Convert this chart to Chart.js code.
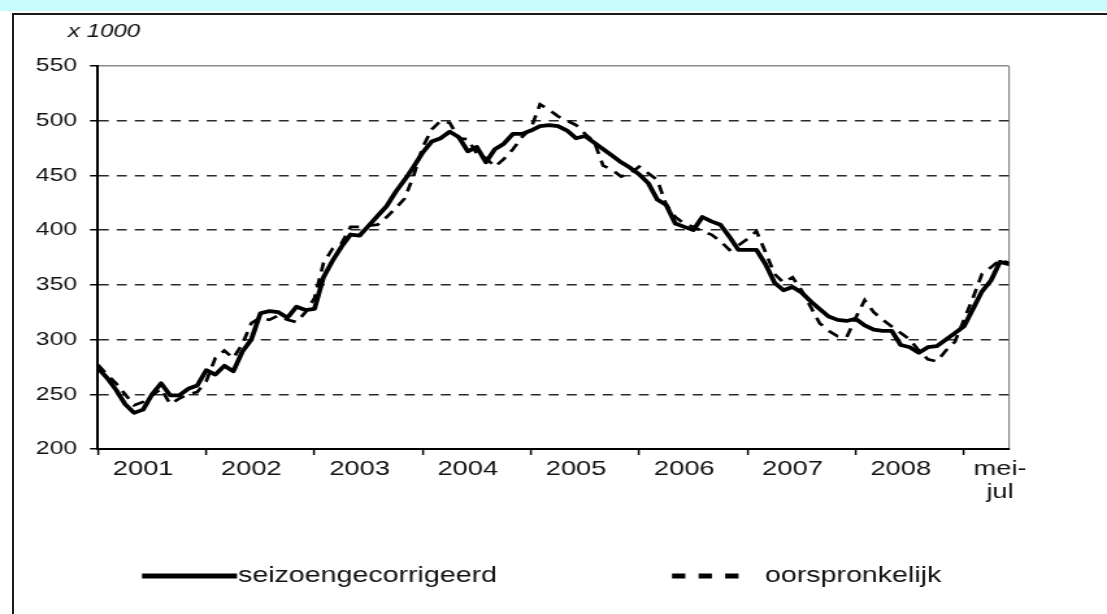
<!DOCTYPE html>
<html>
<head>
<meta charset="utf-8">
<script src="https://cdn.jsdelivr.net/npm/chart.js@4.4.1/dist/chart.umd.min.js"></script>
<style>
  html, body { margin: 0; padding: 0; width: 1107px; height: 614px; overflow: hidden; background: #fff; }
  #band { position: absolute; left: 0; top: 0; width: 1107px; height: 11px; background: #c9fdfd; }
  #frame { position: absolute; left: 12px; top: 13px; width: 1200px; height: 700px;
           border-left: 2px solid #1a1a1a; border-top: 2px solid #1a1a1a; background: #fff; }
  #c { position: absolute; left: 0; top: 0; }
</style>
</head>
<body>
<div id="band"></div>
<div id="frame"></div>
<canvas id="c" width="852" height="614" style="width:1107px;height:614px"></canvas>
<script>
// maandcijfers jan 2001 .. jun 2009 (x 1000)
const seizoengecorrigeerd = [
  274, 265, 254, 241, 233, 236, 250, 260, 249, 249, 255, 258,
  272, 268, 276, 271, 289, 300, 324, 326, 325, 320, 330, 327,
  328, 357, 372, 385, 396, 395, 404, 413, 422, 435, 446, 458,
  471, 481, 484, 490, 485, 472, 476, 462, 474, 479, 488, 488,
  491, 495, 496, 495, 491, 484, 486, 480, 474, 468, 462, 457,
  451, 443, 428, 423, 406, 403, 400, 412, 408, 405, 394, 382,
  382, 382, 369, 352, 345, 348, 343, 335, 328, 321, 318, 317,
  319, 313, 309, 308, 308, 295, 293, 288, 293, 294, 300, 306,
  312, 328, 344, 354, 371, 369
];
const oorspronkelijk = [
  277, 268, 260, 250, 240, 243, 249, 255, 241, 246, 250, 252,
  262, 283, 290, 283, 296, 315, 320, 318, 322, 318, 316, 325,
  338, 370, 383, 388, 403, 403, 404, 405, 412, 420, 429, 450,
  476, 492, 500, 498, 484, 483, 470, 466, 458, 465, 474, 485,
  493, 515, 510, 504, 500, 496, 488, 481, 459, 455, 449, 452,
  458, 452, 446, 423, 412, 406, 403, 399, 396, 390, 382, 386,
  392, 399, 380, 360, 352, 357, 345, 330, 315, 308, 303, 302,
  320, 336, 325, 318, 312, 306, 300, 290, 282, 280, 290, 298,
  318, 338, 360, 366, 373, 370
];
const yearLabels = ['2001', '2002', '2003', '2004', '2005', '2006', '2007', '2008', ['mei-', 'jul']];
const yearLabelAt = [5, 17, 29, 41, 53, 65, 77, 89, 100];   // maandindex van het label
const yearTickAt = [0, 12, 24, 36, 48, 60, 72, 84, 96];      // begin van elk jaar
const yTicks = [200, 250, 300, 350, 400, 450, 500, 550];
const legendNames = ['seizoengecorrigeerd', 'oorspronkelijk'];

// canvas is horizontally stretched to look like the original
const S = 1107 / 852;
const px = v => v / S;
const FONT = '"Liberation Sans", Arial, sans-serif';
const lastIdx = seizoengecorrigeerd.length - 1;
const pts = arr => arr.map((v, i) => ({ x: i, y: v }));

const decor = {
  id: 'decor',
  afterDraw(chart) {
    const ctx = chart.ctx;
    ctx.save();
    ctx.fillStyle = '#111';
    ctx.textBaseline = 'middle';
    ctx.font = 'italic 18.5px ' + FONT;
    ctx.fillText('x 1000', px(68), 32);

    // legend
    const ly = 576;
    const items = [
      { x0: px(142), x1: px(237), tx: px(238), size: 22 },
      { x0: px(672), x1: px(739), tx: px(765), size: 22 }
    ];
    chart.data.datasets.forEach((ds, i) => {
      const it = items[i];
      ctx.beginPath();
      ctx.strokeStyle = ds.borderColor;
      ctx.lineWidth = 5;
      ctx.lineCap = 'butt';
      ctx.setLineDash(ds.borderDash && ds.borderDash.length ? [px(13.3), px(13.3)] : []);
      ctx.moveTo(it.x0, ly);
      ctx.lineTo(it.x1, ly);
      ctx.stroke();
      ctx.setLineDash([]);
      ctx.font = it.size + 'px ' + FONT;
      ctx.fillText(ds.label, it.tx, ly);
    });
    ctx.restore();
  }
};

new Chart(document.getElementById('c'), {
  type: 'line',
  data: {
    datasets: [
      {
        label: legendNames[0],
        data: pts(seizoengecorrigeerd),
        borderColor: '#000',
        borderWidth: 3.8,
        borderJoinStyle: 'round',
        borderCapStyle: 'round',
        pointRadius: 0,
        tension: 0,
        xAxisID: 'x', yAxisID: 'y'
      },
      {
        label: legendNames[1],
        data: pts(oorspronkelijk),
        borderColor: '#000',
        borderWidth: 2.7,
        borderDash: [px(12), px(9)],
        pointRadius: 0,
        tension: 0,
        xAxisID: 'x', yAxisID: 'y'
      }
    ]
  },
  options: {
    responsive: false,
    animation: false,
    events: [],
    layout: { padding: { left: 0, right: px(1107 - 1009), top: 66, bottom: 79 } },
    plugins: { legend: { display: false }, tooltip: { enabled: false } },
    scales: {
      x: {
        type: 'linear', min: 0, max: lastIdx, position: 'bottom', weight: 0,
        afterBuildTicks: s => { s.ticks = yearTickAt.concat([lastIdx]).map(v => ({ value: v })); },
        afterFit: s => { s.height = 6; },
        ticks: { display: false },
        grid: {
          drawOnChartArea: true, drawTicks: true, tickLength: 6,
          color: c => (c.tick && c.tick.value === lastIdx) ? '#8a8a8a' : 'rgba(0,0,0,0)',
          lineWidth: 1.2,
          tickColor: c => (c.tick && c.tick.value === lastIdx) ? 'rgba(0,0,0,0)' : '#000',
          tickWidth: 1.5
        },
        border: { display: true, color: '#000', width: 2 }
      },
      xl: {
        type: 'linear', min: 0, max: lastIdx, position: 'bottom', weight: 1,
        afterBuildTicks: s => { s.ticks = yearLabelAt.map(v => ({ value: v })); },
        afterFit: s => { s.height = 80; },
        grid: { display: false },
        border: { display: false },
        ticks: {
          padding: -5, color: '#111', maxRotation: 0, autoSkip: false,
          font: { family: FONT, size: 21, lineHeight: 1.1 },
          callback: (v, i) => yearLabels[i]
        }
      },
      y: {
        type: 'linear', min: 200, max: 550,
        afterBuildTicks: s => { s.ticks = yTicks.map(v => ({ value: v })); },
        afterFit: s => { s.width = px(98); },
        ticks: { padding: px(13), color: '#111', font: { family: FONT, size: 19 } },
        grid: {
          color: c => {
            const v = c.tick && c.tick.value;
            if (v === 200) return 'rgba(0,0,0,0)';
            if (v === 550) return '#8a8a8a';
            return '#2a2a2a';
          },
          lineWidth: 1.5,
          tickLength: px(8), tickColor: '#000', tickWidth: 1.5
        },
        border: {
          display: true, color: '#000', width: 2,
          dash: c => (c.tick && c.tick.value === 550) ? [] : [px(10), px(8)]
        }
      }
    }
  },
  plugins: [decor]
});
</script>
</body>
</html>
